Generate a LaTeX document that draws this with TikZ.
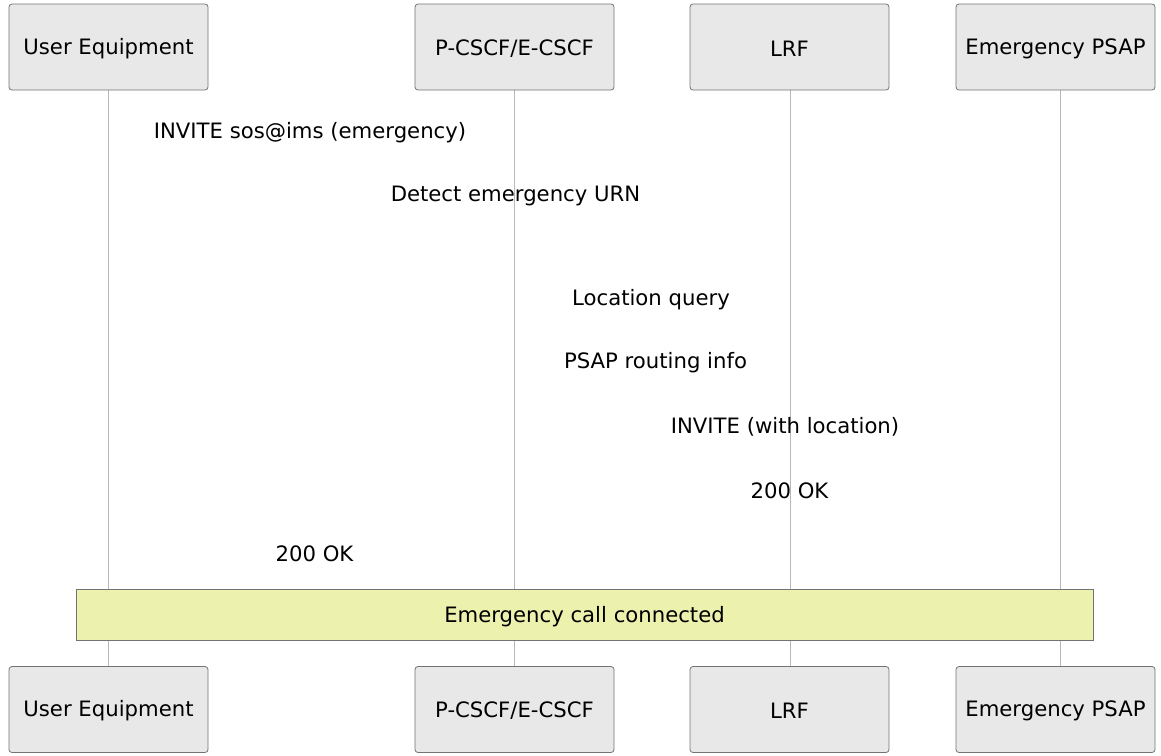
\documentclass[tikz,border=0pt]{standalone}
\usepackage{fontspec}
\setmainfont{DejaVu Sans}
\begin{document}
\begin{tikzpicture}[x=1pt,y=-1pt,
  txt/.style={font=\fontsize{21.2}{25}\selectfont,inner sep=0pt,yshift=-1.5pt},
  actor/.style={draw=black!55,fill=black!9,rounded corners=3pt,line width=0.8pt,minimum width=199pt,minimum height=86pt,inner sep=0pt,label={[txt]center:#1}},
  life/.style={draw=black!28,line width=1pt},
  msg/.style={txt},
  notebox/.style={draw=black!55,fill=notecol,line width=0.8pt,minimum width=1017pt,minimum height=51pt,inner sep=0pt,label={[txt]center:#1}}]
\definecolor{notecol}{HTML}{ECF2AE}
\useasboundingbox (0,0) rectangle (1161,755);
% lifelines first
\coordinate (l1t) at (108.5,90); \coordinate (l1b) at (108.5,667);
\coordinate (l2t) at (514.5,90); \coordinate (l2b) at (514.5,667);
\coordinate (l3t) at (790,90); \coordinate (l3b) at (790,667);
\coordinate (l4t) at (1060,90); \coordinate (l4b) at (1060,667);
\draw[life] (l1t) -- (l1b);
\draw[life] (l2t) -- (l2b);
\draw[life] (l3t) -- (l3b);
\draw[life] (l4t) -- (l4b);
% actors top
\node[actor={User Equipment}] (ue) at (108.5,47) {};
\node[actor={P-CSCF/E-CSCF}] (pc) at (514.5,47) {};
\node[actor={LRF}] (lrf) at (789.5,47) {};
\node[actor={Emergency PSAP}] (ps) at (1055.5,47) {};
% actors bottom
\node[actor={User Equipment}] (ueb) at (108.5,709.5) {};
\node[actor={P-CSCF/E-CSCF}] (pcb) at (514.5,709.5) {};
\node[actor={LRF}] (lrfb) at (789.5,709.5) {};
\node[actor={Emergency PSAP}] (psb) at (1055.5,709.5) {};
% message labels
\node[msg] (m1) at (310,131.5) {INVITE sos@ims (emergency)};
\node[msg] (m2) at (515.5,194.5) {Detect emergency URN};
\node[msg] (m3) at (651,298.5) {Location query};
\node[msg] (m4) at (655.5,361.5) {PSAP routing info};
\node[msg] (m5) at (785,425.5) {INVITE (with location)};
\node[msg] (m6) at (789.5,489.5) {200 OK};
\node[msg] (m7) at (314.5,552.5) {200 OK};
% note
\node[notebox={Emergency call connected}] (note) at (584.5,615) {};
\end{tikzpicture}
\end{document}
